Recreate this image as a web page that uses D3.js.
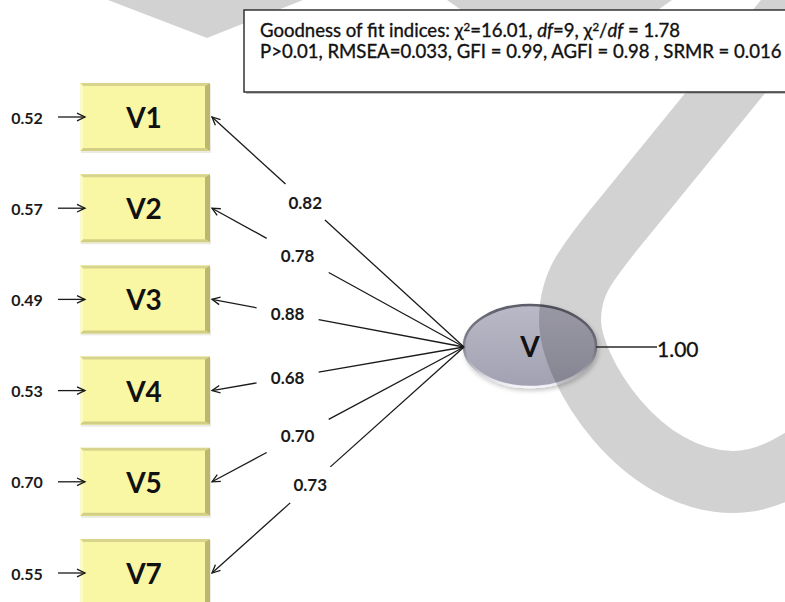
<!DOCTYPE html>
<html>
<head>
<meta charset="utf-8">
<script src="https://cdn.jsdelivr.net/npm/d3@7"></script>
<style>
  html, body { margin: 0; padding: 0; background: #fff; }
  svg { display: block; }
</style>
</head>
<body>
<svg id="chart" width="785" height="602"></svg>
<script>
// ---- Model values ----
const indicators = ["V1", "V2", "V3", "V4", "V5", "V7"];
const loadings = [0.82, 0.78, 0.88, 0.68, 0.70, 0.73];
const errorVariances = [0.52, 0.57, 0.49, 0.53, 0.70, 0.55];
const factorName = "V";
const factorVariance = 1.00;

// Fit indices shown in the header box
const fitChi2 = "16.01";
const fitDf = "9";
const fitRatio = "1.78";
const fitLine2 = "P>0.01, RMSEA=0.033, GFI = 0.99, AGFI = 0.98 , SRMR = 0.016";

// ---- Layout ----
const boxX = 80, boxW = 130, boxH = 68;
const hub = { x: 464, y: 347 };                 // left tip of the factor ellipse
const ell = { cx: 530, cy: 346, rx: 66, ry: 41 };
const labelAt = [0.37, 0.34, 0.30, 0.30, 0.34, 0.39]; // label position along each path
const gapHalf = { w: 31, h: 18 };
const fmt = d3.format(".2f");
const numFont = "Lato, 'Open Sans', sans-serif";

const svg = d3.select("#chart");
const defs = svg.append("defs");

const y = d3.scalePoint().domain(indicators).range([117, 573]);

// arrowhead: open barbs
defs.append("marker")
  .attr("id", "arrow")
  .attr("viewBox", "-10 -6 12 12")
  .attr("refX", 0).attr("refY", 0)
  .attr("markerWidth", 12).attr("markerHeight", 12)
  .attr("markerUnits", "userSpaceOnUse")
  .attr("orient", "auto")
  .append("path")
  .attr("d", "M-8,-3.8 L0,0 L-8,3.8")
  .attr("fill", "none").attr("stroke", "#1a1a1a").attr("stroke-width", 1.3);

const gFill = defs.append("linearGradient").attr("id", "ellFill")
  .attr("x1", 0).attr("y1", 0).attr("x2", 0).attr("y2", 1);
gFill.append("stop").attr("offset", "0%").attr("stop-color", "#bab9c8");
gFill.append("stop").attr("offset", "100%").attr("stop-color", "#a2a1b1");

const gRim = defs.append("linearGradient").attr("id", "ellRim")
  .attr("x1", 0).attr("y1", 0).attr("x2", 0).attr("y2", 1);
gRim.append("stop").attr("offset", "0%").attr("stop-color", "#5e5d69");
gRim.append("stop").attr("offset", "55%").attr("stop-color", "#8e8d9a");
gRim.append("stop").attr("offset", "100%").attr("stop-color", "#f4f4fa");

const shadow = defs.append("filter").attr("id", "soft")
  .attr("x", "-20%").attr("y", "-20%").attr("width", "140%").attr("height", "150%");
shadow.append("feDropShadow").attr("dx", 1.5).attr("dy", 2.5)
  .attr("stdDeviation", 2).attr("flood-color", "#000").attr("flood-opacity", 0.22);

// ---- Factor ellipse ----
svg.append("ellipse")
  .attr("cx", ell.cx).attr("cy", ell.cy).attr("rx", ell.rx).attr("ry", ell.ry)
  .attr("fill", "url(#ellFill)")
  .attr("stroke", "url(#ellRim)").attr("stroke-width", 2.6)
  .attr("filter", "url(#soft)");

// ---- Background swoosh ----
const mark = svg.append("g").attr("class", "swoosh");
mark.append("path")
  .attr("d", "M805,-5 L612,232 C585,266 570,285 570,320 C570,370 640,482 733,482 C760,482 785,472 830,440")
  .attr("fill", "none").attr("stroke", "#000").attr("stroke-opacity", 0.175)
  .attr("stroke-width", 62);
mark.append("path")
  .attr("d", "M108,0 L207,38 L303,0 Z")
  .attr("fill", "#000").attr("fill-opacity", 0.175);
mark.append("path")
  .attr("d", "M447,0 L560,80 L672,0 Z")
  .attr("fill", "#000").attr("fill-opacity", 0.175);

// ---- Fit indices box ----
const fitBox = svg.append("g");
fitBox.append("rect")
  .attr("x", 246).attr("y", 12).attr("width", 560).attr("height", 82)
  .attr("fill", "#9a9a9a").attr("opacity", 0.6);
fitBox.append("rect")
  .attr("x", 244).attr("y", 10).attr("width", 560).attr("height", 82)
  .attr("fill", "#fff").attr("stroke", "#262626").attr("stroke-width", 1.4);

const fitFont = "Lato, 'Open Sans', sans-serif";
const t1 = fitBox.append("text").attr("x", 260).attr("y", 37)
  .attr("font-family", fitFont).attr("fill", "#111")
  .attr("stroke", "#111").attr("stroke-width", 0.35);
const line1Parts = [
  { t: "Goodness of fit indices: χ" }, { t: "2", sup: true }, { t: "=" + fitChi2 + ", " },
  { t: "df", it: true }, { t: "=" + fitDf + ", χ" }, { t: "2", sup: true }, { t: "/" },
  { t: "df", it: true }, { t: " = " + fitRatio }
];
line1Parts.forEach((p, i) => {
  const s = t1.append("tspan").text(p.t);
  if (p.it) s.attr("font-style", "italic");
  if (p.sup) s.attr("font-size", "0.62em").attr("dy", "-0.55em");
  else if (i > 0 && line1Parts[i - 1].sup) s.attr("dy", "0.341em");
});
const t2 = fitBox.append("text").attr("x", 260).attr("y", 58)
  .attr("font-family", fitFont).attr("fill", "#111")
  .attr("stroke", "#111").attr("stroke-width", 0.35)
  .text(fitLine2);

// size the header text so the second line spans the box
t2.attr("font-size", 17); t1.attr("font-size", 17);
const len2 = t2.node().getComputedTextLength();
const fs = 17 * 522 / len2;
t1.attr("font-size", fs); t2.attr("font-size", fs);

// ---- Loading paths (factor -> indicators) ----
const paths = svg.append("g");
indicators.forEach((name, i) => {
  const p0 = { x: boxX + boxW + 2, y: y(name) };
  const p1 = hub;
  const dx = p1.x - p0.x, dy = p1.y - p0.y;
  const lc = { x: p0.x + dx * labelAt[i], y: p0.y + dy * labelAt[i] };
  // find where the path enters and leaves the label area
  let a = 0, b = 1;
  const pp = [-dx, dx, -dy, dy];
  const qq = [p0.x - (lc.x - gapHalf.w), (lc.x + gapHalf.w) - p0.x,
              p0.y - (lc.y - gapHalf.h), (lc.y + gapHalf.h) - p0.y];
  for (let k = 0; k < 4; k++) {
    const r = qq[k] / pp[k];
    if (pp[k] < 0) a = Math.max(a, r); else b = Math.min(b, r);
  }
  const at = t => [p0.x + dx * t, p0.y + dy * t];
  const pa = at(a), pb = at(b);
  paths.append("line")
    .attr("x1", pa[0]).attr("y1", pa[1]).attr("x2", p0.x).attr("y2", p0.y)
    .attr("stroke", "#1a1a1a").attr("stroke-width", 1.3)
    .attr("marker-end", "url(#arrow)");
  paths.append("line")
    .attr("x1", pb[0]).attr("y1", pb[1]).attr("x2", p1.x).attr("y2", p1.y)
    .attr("stroke", "#1a1a1a").attr("stroke-width", 1.3);
  paths.append("text")
    .attr("x", lc.x).attr("y", lc.y)
    .attr("text-anchor", "middle").attr("dominant-baseline", "central")
    .attr("font-family", numFont).attr("font-weight", "bold").attr("font-size", 17)
    .attr("fill", "#1a1a1a")
    .text(fmt(loadings[i]));
});

// ---- Indicator boxes ----
const boxes = svg.append("g").selectAll("g").data(indicators).join("g")
  .attr("transform", d => `translate(${boxX},${y(d) - boxH / 2})`);
boxes.append("rect").attr("x", 1).attr("y", 2).attr("width", boxW).attr("height", boxH)
  .attr("fill", "#d8d8c8").attr("opacity", 0.5);
boxes.append("rect").attr("width", boxW).attr("height", boxH).attr("fill", "#f9f7a3");
const bv = 3, bvR = 5;
boxes.append("path")
  .attr("d", `M0,0 L${boxW},0 L${boxW - bvR},${bv} L${bv},${bv} Z`).attr("fill", "#d8d48d");
boxes.append("path")
  .attr("d", `M${boxW},0 L${boxW},${boxH} L${boxW - bvR},${boxH - bv} L${boxW - bvR},${bv} Z`)
  .attr("fill", "#bcb76d");
boxes.append("path")
  .attr("d", `M0,${boxH} L${boxW},${boxH} L${boxW - bvR},${boxH - bv} L${bv},${boxH - bv} Z`)
  .attr("fill", "#d2ce84");
boxes.append("path")
  .attr("d", `M0,0 L${bv},${bv} L${bv},${boxH - bv} L0,${boxH} Z`).attr("fill", "#fbfac8");
boxes.append("text")
  .attr("x", boxW / 2 - 1).attr("y", boxH / 2)
  .attr("text-anchor", "middle").attr("dominant-baseline", "central")
  .attr("font-family", numFont).attr("font-weight", "bold").attr("font-size", 28)
  .attr("fill", "#111")
  .text(d => d);

// ---- Error terms ----
const errs = svg.append("g");
indicators.forEach((name, i) => {
  errs.append("line")
    .attr("x1", 58).attr("y1", y(name)).attr("x2", 85).attr("y2", y(name))
    .attr("stroke", "#1a1a1a").attr("stroke-width", 1.3)
    .attr("marker-end", "url(#arrow)");
  errs.append("text")
    .attr("x", 27).attr("y", y(name))
    .attr("text-anchor", "middle").attr("dominant-baseline", "central")
    .attr("font-family", numFont).attr("font-weight", "bold").attr("font-size", 16)
    .attr("fill", "#1a1a1a")
    .text(fmt(errorVariances[i]));
});

// ---- Factor label and variance ----
svg.append("text")
  .attr("x", ell.cx).attr("y", ell.cy)
  .attr("text-anchor", "middle").attr("dominant-baseline", "central")
  .attr("font-family", numFont).attr("font-weight", "bold").attr("font-size", 28)
  .attr("fill", "#111").text(factorName);
svg.append("line")
  .attr("x1", ell.cx + ell.rx).attr("y1", ell.cy + 1).attr("x2", 657).attr("y2", ell.cy + 1)
  .attr("stroke", "#2a2a2a").attr("stroke-width", 1.6);
svg.append("text")
  .attr("x", 657).attr("y", ell.cy + 2)
  .attr("dominant-baseline", "central")
  .attr("font-family", numFont).attr("font-size", 21)
  .attr("stroke", "#111").attr("stroke-width", 0.3)
  .attr("fill", "#111").text(fmt(factorVariance));
</script>
</body>
</html>
